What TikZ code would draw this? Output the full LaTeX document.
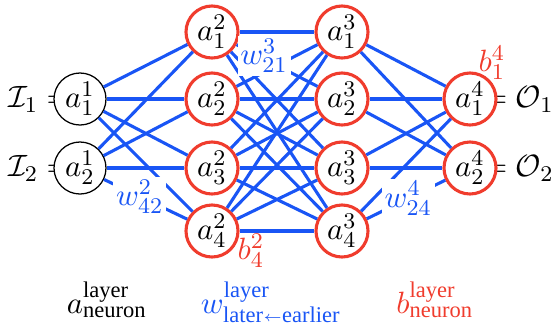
\documentclass[tikz,border=0pt,11pt]{standalone}
\usepackage{amsmath, amssymb}
\usepackage[no-math]{fontspec}
\setmainfont{Liberation Serif}
\usepackage{xcolor}
\usepackage{tikz}
\usetikzlibrary{positioning, calc}
\definecolor{netblue}{RGB}{25,85,245}
\definecolor{netred}{RGB}{240,60,45}
\pgfdeclarelayer{bg}
\pgfsetlayers{bg,main}

\begin{document}
\begin{tikzpicture}[x=0.0125cm, y=-0.0125cm,
    neuron/.style={circle, draw, line width=0.45pt, minimum size=0.65cm, inner sep=0pt, fill=white},
    hidden/.style={neuron, draw=netred, line width=1.1pt},
    wire/.style={draw=netblue, line width=1.1pt},
    wlab/.style={fill=white, text=netblue, inner sep=1pt},
    blab/.style={text=netred, inner sep=0pt}]
    \useasboundingbox (0,0) rectangle (558,328);

    % input layer
    \node[neuron] (a11) at (80,99) {$a^1_1$};
    \node[neuron] (a12) at (80,168) {$a^1_2$};
    % hidden layers
    \foreach \i/\y in {1/32, 2/99, 3/168, 4/231} {
        \node[hidden] (a2\i) at (212,\y) {$a^2_\i$};
        \node[hidden] (a3\i) at (342,\y) {$a^3_\i$};
    }
    % output layer
    \node[hidden] (a41) at (470,99) {$a^4_1$};
    \node[hidden] (a42) at (470,168) {$a^4_2$};

    % connections
    \foreach \j in {1,...,4} {
        \foreach \k in {1,2} {
            \draw[wire] (a1\k) -- (a2\j);
            \draw[wire] (a3\j) -- (a4\k);
        }
        \foreach \k in {1,...,4}
            \draw[wire] (a2\k) -- (a3\j);
    }

    % weights and biases
    \path (a21) -- node[wlab, pos=0.34, yshift=1pt] (w321) {$w^3_{21}$} (a32);
    \path (a12) -- node[wlab, pos=0.43] (w242) {$w^2_{42}$} (a24);
    \path (a34) -- node[wlab, pos=0.53] (w424) {$w^4_{24}$} (a42);
    \node[blab] (b41) at (492,63) {$b^4_1$};
    \node[blab] (b24) at (251,251) {$b^2_4$};

    % inputs and outputs (partly hidden behind the circles)
    \begin{pgfonlayer}{bg}
    \node[anchor=base east, inner sep=0pt] (in1) at ([xshift=-0.11cm]a11.base) {$\mathcal{I}_1 =$};
    \node[anchor=base east, inner sep=0pt] (in2) at ([xshift=-0.11cm]a12.base) {$\mathcal{I}_2 =$};
    \node[anchor=base west, inner sep=0pt] (out1) at ([xshift=0.16cm]a41.base) {$= \mathcal{O}_1$};
    \node[anchor=base west, inner sep=0pt] (out2) at ([xshift=0.16cm]a42.base) {$= \mathcal{O}_2$};
    \end{pgfonlayer}

    % legend
    \node[anchor=base] (lega) at (107,313) {$a^{\text{layer}}_{\text{neuron}}$};
    \node[anchor=base, text=netblue] (legw) at (271,313)
        {$w^{\text{layer}}_{\text{later\raisebox{0.5pt}{\fontsize{4.5pt}{5pt}\selectfont$\leftarrow$}earlier}}$};
    \node[anchor=base, text=netred] (legb) at (435,313) {$b^{\text{layer}}_{\text{neuron}}$};
\end{tikzpicture}
\end{document}
